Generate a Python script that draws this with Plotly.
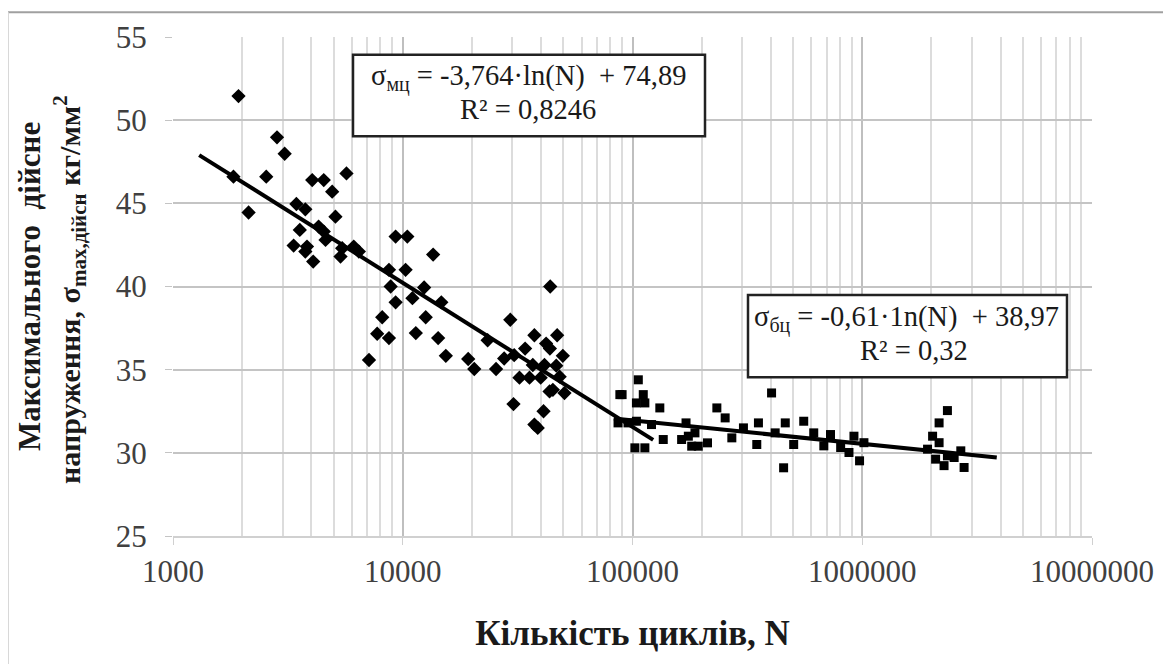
import numpy as np
import plotly.graph_objects as go

# Low-cycle (мц) data: diamonds
lc_N = [1928, 2836, 3062, 1833, 2546, 2133, 4036, 4531, 5689, 4930, 3444, 3767, 5094,
        3564, 4303, 4531, 4613, 3350, 3830, 3767, 4076, 5450, 5360, 6120, 6440,
        9310, 10470, 8710, 10290, 8860, 13560, 12390, 9310, 11020, 14720, 8140, 12590,
        8710, 11400, 14260, 15400, 7130, 7740,
        19270, 20480, 25480, 23410, 29380, 27630, 30550, 34090, 37410, 47000, 43840,
        42070, 43700, 49750, 36820, 41380, 46570, 32210, 35620, 39850, 48190, 43550,
        45020, 50580, 30340, 41000, 37410, 38690]
lc_S = [51.45, 48.97, 47.98, 46.6, 46.6, 44.45, 46.4, 46.4, 46.8, 45.7, 44.96, 44.64, 44.2,
        43.4, 43.6, 43.3, 42.8, 42.46, 42.4, 42.1, 41.5, 42.3, 41.8, 42.4, 42.1,
        43.0, 43.0, 41.0, 41.0, 40.0, 41.92, 39.94, 39.05, 39.3, 39.05, 38.15, 38.15,
        36.9, 37.2, 36.9, 35.83, 35.58, 37.16,
        35.64, 35.04, 35.04, 36.77, 38.0, 35.67, 35.87, 36.27, 37.07, 37.07, 40.0,
        36.57, 36.27, 35.83, 35.28, 35.28, 35.24, 34.52, 34.52, 34.52, 34.58, 33.69,
        33.79, 33.59, 32.93, 32.5, 31.7, 31.5]

# High-cycle (бц) data: squares
hc_N = [106000, 88100, 90100, 111400, 104000, 113200, 131500, 86500, 95600, 104000,
        121000, 102400, 113200, 136100, 163600, 171000, 181000, 193300, 212000, 175000,
        187000, 232900, 253100, 270600, 304000, 353300, 347500, 403000, 417800, 454700,
        462300, 503000, 556200, 615000, 680400, 727600, 805400, 875400, 920200, 973400,
        1017000, 1924000, 2024000, 2160000, 2348000, 2086000, 2270000, 2512000, 2685000,
        2775000, 2160000, 2348000]
hc_S = [34.39, 33.5, 33.5, 33.5, 33.0, 33.0, 32.7, 31.8, 31.8, 31.9,
        31.7, 30.3, 30.3, 30.8, 30.8, 31.8, 30.4, 30.4, 30.6, 31.0,
        31.2, 32.7, 32.1, 30.9, 31.5, 31.8, 30.5, 33.6, 31.2, 29.1,
        31.8, 30.5, 31.9, 31.2, 30.42, 31.1, 30.32, 30.02, 31.0, 29.52,
        30.61, 30.22, 31.0, 31.8, 32.54, 29.62, 29.23, 29.72, 30.12,
        29.12, 30.61, 29.82]

# Trend lines: sigma = a*ln(N) + b
lc_fit = {"a": -3.764, "b": 74.89, "N0": 1300, "N1": 123000}
hc_fit = {"a": -0.61, "b": 38.97, "N0": 83000, "N1": 3850000}

x_ticks = [1000, 10000, 100000, 1000000, 10000000]
x_ticktext = ["1000", "10000", "100000", "1000000", "10000000"]
y_ticks = [25, 30, 35, 40, 45, 50, 55]

FONT = "Liberation Serif, Times New Roman, serif"
TXT = "#1a1a1a"

fig = go.Figure()
fig.add_trace(go.Scatter(x=hc_N, y=hc_S, mode="markers",
                         marker=dict(symbol="square", size=9, color="black"),
                         showlegend=False))
fig.add_trace(go.Scatter(x=lc_N, y=lc_S, mode="markers",
                         marker=dict(symbol="diamond", size=11, color="black"),
                         showlegend=False))
for f in (lc_fit, hc_fit):
    xs = np.logspace(np.log10(f["N0"]), np.log10(f["N1"]), 50)
    ys = f["a"] * np.log(xs) + f["b"]
    fig.add_trace(go.Scatter(x=xs, y=ys, mode="lines",
                             line=dict(color="black", width=4), showlegend=False))

OFF = 8  # page body margin
W, H = 1171, 664
L, T = 173 - OFF, 33 - OFF
PR, PB = 1092 - OFF, 536 - OFF
R, B = W - PR, H - PB
pw, ph = PR - L, PB - T


def px(xpage):
    return (xpage - OFF - L) / pw


def py(ypage):
    return (PB - (ypage - OFF)) / ph


def note(x, y, text, size=28.5, angle=0):
    return dict(xref="paper", yref="paper", x=px(x), y=py(y), xanchor="center",
                yanchor="middle", showarrow=False, align="center", text=text,
                textangle=angle, font=dict(size=size, family=FONT, color=TXT))


fig.update_layout(
    width=W, height=H,
    margin=dict(l=L, r=R, t=T, b=B),
    plot_bgcolor="white", paper_bgcolor="white",
    font=dict(family=FONT, color="#404040"),
    xaxis=dict(type="log", range=[3, 7], tickvals=x_ticks, ticktext=x_ticktext,
               showgrid=True, gridcolor="#bfbfbf", gridwidth=1.5,
               ticks="outside", ticklen=7, tickcolor="#d0d0d0",
               showline=True, linecolor="#d0d0d0", linewidth=2,
               tickfont=dict(size=31, family=FONT, color="#404040"),
               minor=dict(dtick="D1", showgrid=True, gridcolor="#dcdcdc", gridwidth=1.5),
               zeroline=False,
               title=dict(text="<b>Кількість циклів, N</b>",
                          font=dict(size=35, family=FONT, color=TXT), standoff=32)),
    yaxis=dict(range=[25, 55], tickvals=y_ticks, showgrid=True, gridcolor="#c4c4c4",
               gridwidth=2, ticks="outside", ticklen=7, tickcolor="#c4c4c4",
               tickfont=dict(size=31, family=FONT, color="#404040"),
               ticklabelstandoff=12, zeroline=False, showline=False),
    shapes=[
        dict(type="line", xref="paper", yref="paper", x0=px(0), x1=px(W + 20),
             y0=py(8), y1=py(8), line=dict(color="#a0a0a0", width=2)),
        dict(type="line", xref="paper", yref="paper", x0=px(8), x1=px(8),
             y0=py(8), y1=py(H + 20), line=dict(color="#d8d8d8", width=2)),
        dict(type="rect", xref="paper", yref="paper", x0=px(353), x1=px(705),
             y0=py(133), y1=py(51), line=dict(color="#222222", width=2.5),
             fillcolor="white", layer="above"),
        dict(type="rect", xref="paper", yref="paper", x0=px(748), x1=px(1067),
             y0=py(376), y1=py(293), line=dict(color="#222222", width=2.5),
             fillcolor="white", layer="above"),
    ],
    annotations=[
        note(528, 74, "σ<sub>мц</sub> = -3,764·ln(N)\u00a0 + 74,89"),
        note(528, 106, "R² = 0,8246"),
        note(906, 317, "σ<sub>бц</sub> = -0,61·1n(N)\u00a0 + 38,97"),
        note(914, 349, "R² = 0,32"),
        note(30, 285, "<b>Максимального\u00a0 дійсне</b>", size=31, angle=-90),
        note(70, 288, "<b>напруження, σ<sub>max,дійсн</sub> кг/мм<sup>2</sup></b>",
             size=30, angle=-90),
    ],
)

fig.write_html("out.html")
